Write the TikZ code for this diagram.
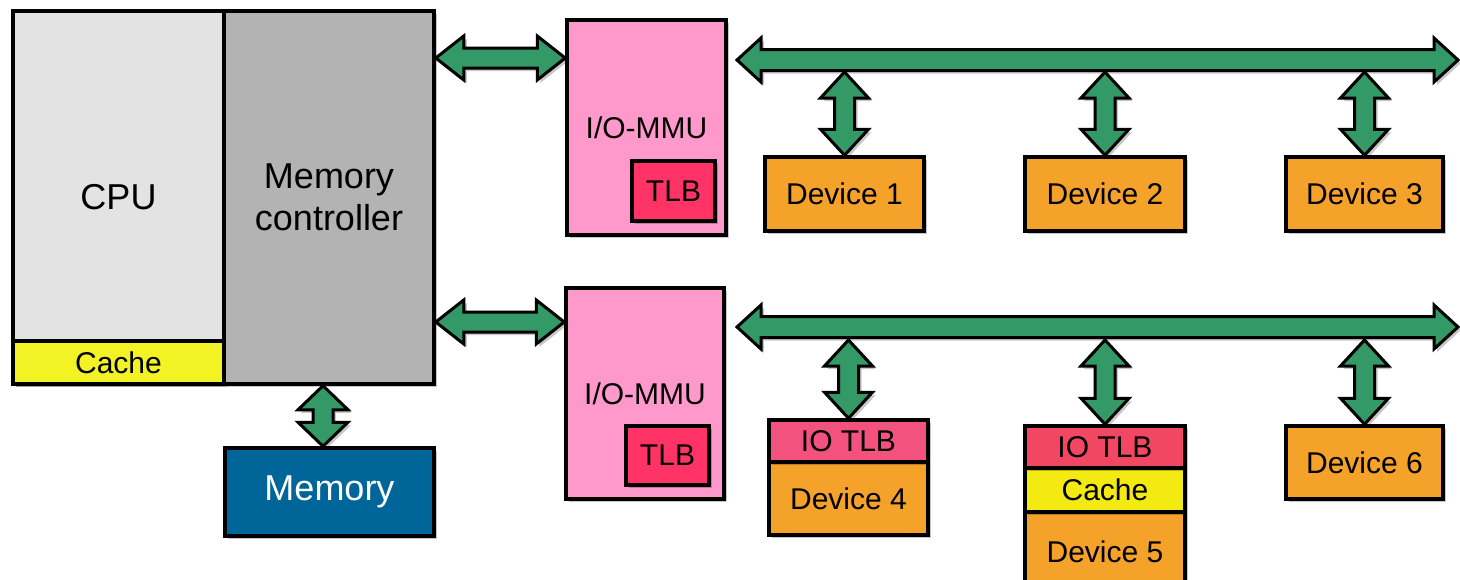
\documentclass[tikz,border=0pt]{standalone}
\usepackage{fontspec}
\setmainfont{Liberation Sans}
\usetikzlibrary{shadows,calc}

\definecolor{linkgreen}{HTML}{339966}
\definecolor{cpugray}{HTML}{E3E3E3}
\definecolor{mcgray}{HTML}{B3B3B3}
\definecolor{cacheyellow}{HTML}{F2F224}
\definecolor{devcacheyellow}{HTML}{F2EA10}
\definecolor{memblue}{HTML}{006699}
\definecolor{mmupink}{HTML}{FF99CC}
\definecolor{tlbred}{HTML}{FF3366}
\definecolor{iotlbpink}{HTML}{F2527D}
\definecolor{iotlbred}{HTML}{F24762}
\definecolor{devorange}{HTML}{F4A22A}

% horizontal double block arrow: start, end, head length, head half width, shaft half width
\newcommand\hlink[5]{%
  \path[link] let \p1=#1, \p2=#2 in
    (\x1,\y1) -- (\x1+#3,\y1+#4) -- (\x1+#3,\y1+#5) -- (\x2-#3,\y1+#5)
    -- (\x2-#3,\y1+#4) -- (\x2,\y1) -- (\x2-#3,\y1-#4) -- (\x2-#3,\y1-#5)
    -- (\x1+#3,\y1-#5) -- (\x1+#3,\y1-#4) -- cycle;}
% vertical double block arrow: upper end, lower end, head length, head half width, shaft half width
\newcommand\vlink[5]{%
  \path[link] let \p1=#1, \p2=#2 in
    (\x1,\y1) -- (\x1+#4,\y1-#3) -- (\x1+#5,\y1-#3) -- (\x1+#5,\y2+#3)
    -- (\x1+#4,\y2+#3) -- (\x1,\y2) -- (\x1-#4,\y2+#3) -- (\x1-#5,\y2+#3)
    -- (\x1-#5,\y1-#3) -- (\x1-#4,\y1-#3) -- cycle;}

\begin{document}
\begin{tikzpicture}[x=1pt,y=-1pt,
  shadowed/.style={drop shadow={shadow xshift=3pt,shadow yshift=-3pt,fill=black,opacity=0.22}},
  blk/.style={draw=black, line width=3.5pt, inner sep=0pt, shadowed,
    font=\fontsize{30}{34}\selectfont, align=center},
  bigtext/.style={font=\fontsize{36}{42}\selectfont},
  link/.style={fill=linkgreen, draw=black, line width=3pt, line join=miter, shadowed},
]
\useasboundingbox (0,0) rectangle (1460,579);

% host side
\node[blk, bigtext, fill=cpugray, minimum width=211pt, minimum height=373pt] (cpu) at (118.5,197.5) {CPU};
\node[blk, fill=cacheyellow, minimum width=211pt, minimum height=43pt] (cache) at (118.5,362.5) {Cache};
\node[blk, bigtext, fill=mcgray, minimum width=210pt, minimum height=373pt] (mc) at (329,197.5) {Memory\\controller};
\node[blk, bigtext, fill=memblue, text=white, minimum width=209pt, minimum height=88pt] (mem) at (329.5,492) {Memory};

% I/O MMUs
\node[blk, fill=mmupink, minimum width=159pt, minimum height=215pt] (mmu1) at (646.5,127.5) {I/O-MMU};
\node[blk, fill=tlbred, minimum width=83pt, minimum height=60pt] (tlb1) at (673.5,191) {TLB};
\node[blk, fill=mmupink, minimum width=158pt, minimum height=211pt] (mmu2) at (645,393.5) {I/O-MMU};
\node[blk, fill=tlbred, minimum width=83pt, minimum height=59pt] (tlb2) at (667.5,455.5) {TLB};

% devices on the first bus
\node[blk, fill=devorange, minimum width=159pt, minimum height=74pt] (dev1) at (844.5,194) {Device 1};
\node[blk, fill=devorange, minimum width=160pt, minimum height=74pt] (dev2) at (1105,194) {Device 2};
\node[blk, fill=devorange, minimum width=157pt, minimum height=74pt] (dev3) at (1364.5,194) {Device 3};

% devices on the second bus
\node[blk, fill=devorange, minimum width=159pt, minimum height=73pt] (dev4) at (848.5,498.5) {Device 4};
\node[blk, fill=iotlbpink, minimum width=159pt, minimum height=42pt] (iotlb4) at (848.5,441) {IO TLB};
\node[blk, fill=devorange, minimum width=160pt, minimum height=80pt] (dev5) at (1105,552) {Device 5};
\node[blk, fill=devcacheyellow, minimum width=160pt, minimum height=44pt] (cache5) at (1105,490) {Cache};
\node[blk, fill=iotlbred, minimum width=160pt, minimum height=42pt] (iotlb5) at (1105,447) {IO TLB};
\node[blk, fill=devorange, minimum width=157pt, minimum height=73pt] (dev6) at (1364.5,462.5) {Device 6};

% reference levels for the links
\coordinate (up) at (0,58);
\coordinate (low) at (0,322);
\coordinate (memx) at (323,0);
\coordinate (bus1w) at (737,60);
\coordinate (bus1e) at (1458,60);
\coordinate (bus2w) at (737,327);
\coordinate (bus2e) at (1458,327);
\coordinate (bus1s) at (0,72);
\coordinate (bus2s) at (0,340);

% links from the memory controller
\hlink{(mc.east |- up)}{(mmu1.west |- up)}{28pt}{22pt}{10pt}
\hlink{(mc.east |- low)}{(mmu2.west |- low)}{28pt}{22pt}{10pt}
\vlink{(mc.south -| memx)}{(mem.north -| memx)}{24pt}{25pt}{10pt}

% device taps
\vlink{(dev1.north |- bus1s)}{(dev1.north)}{26pt}{24pt}{10pt}
\vlink{(dev2.north |- bus1s)}{(dev2.north)}{26pt}{24pt}{10pt}
\vlink{(dev3.north |- bus1s)}{(dev3.north)}{26pt}{24pt}{10pt}
\vlink{(iotlb4.north |- bus2s)}{(iotlb4.north)}{26pt}{24pt}{10pt}
\vlink{(iotlb5.north |- bus2s)}{(iotlb5.north)}{26pt}{24pt}{10pt}
\vlink{(dev6.north |- bus2s)}{(dev6.north)}{26pt}{24pt}{10pt}

% buses
\hlink{(bus1w)}{(bus1e)}{24pt}{22pt}{10.5pt}
\hlink{(bus2w)}{(bus2e)}{24pt}{22pt}{10.5pt}
\end{tikzpicture}
\end{document}
